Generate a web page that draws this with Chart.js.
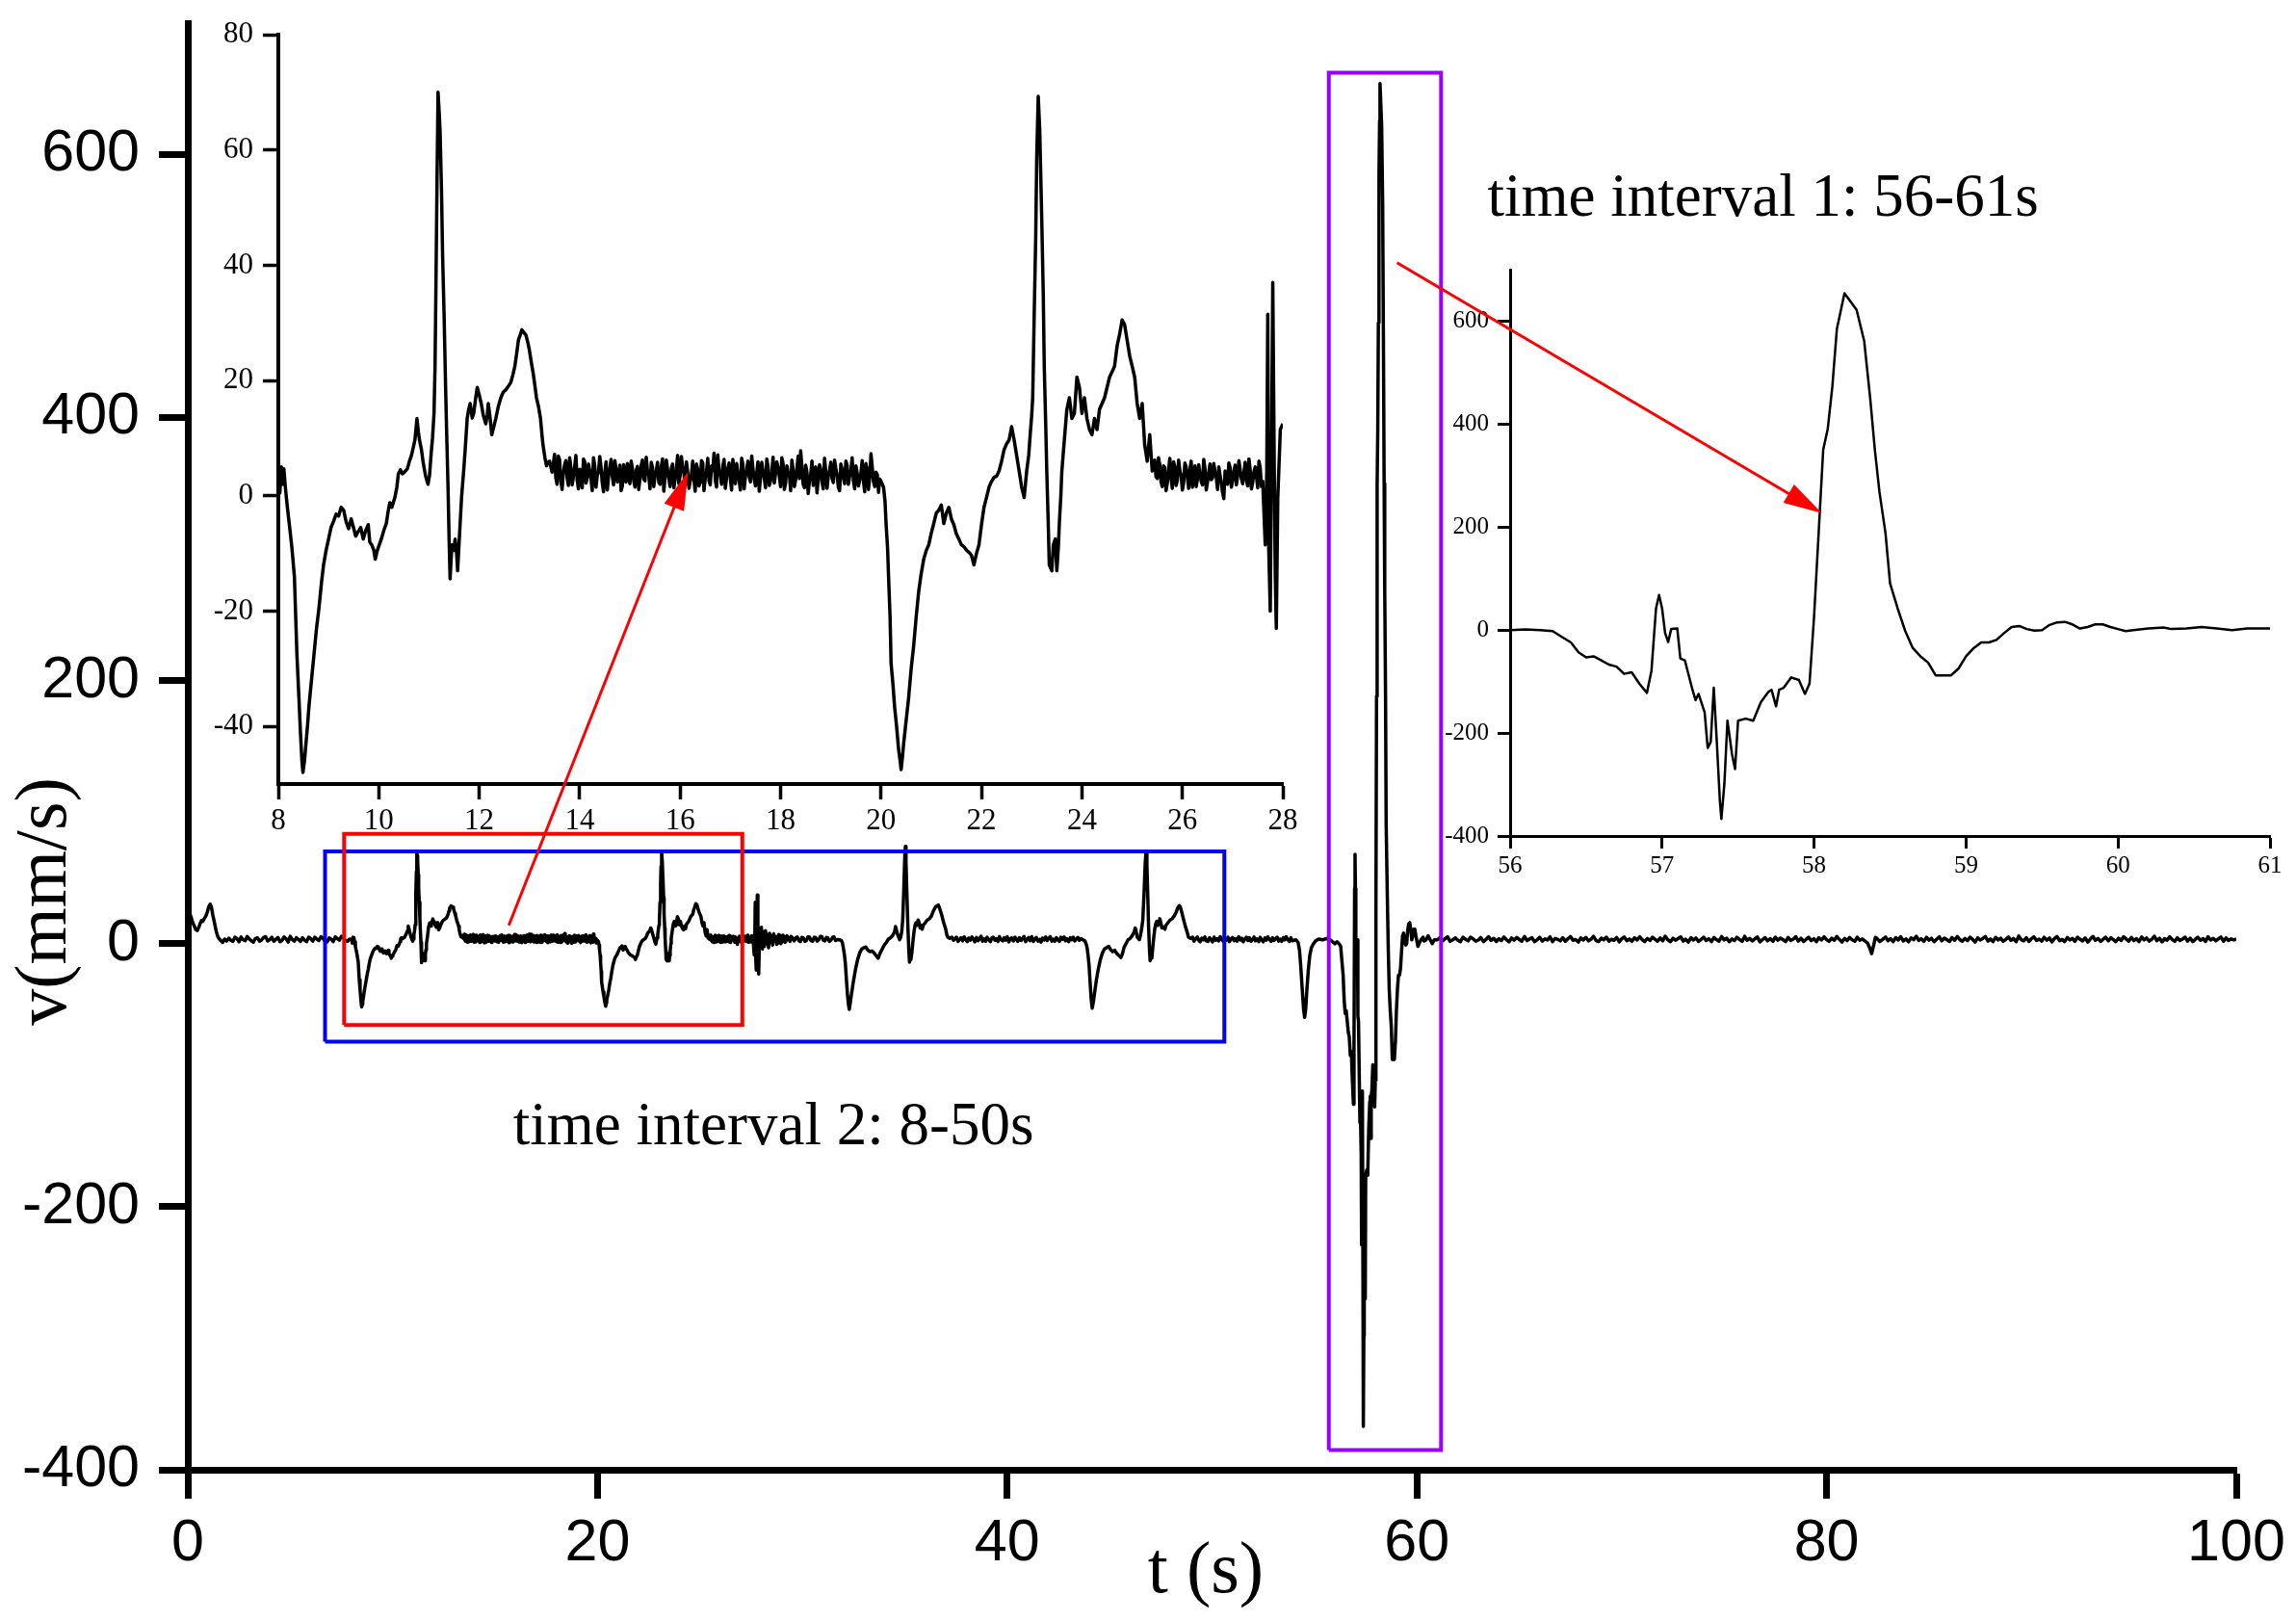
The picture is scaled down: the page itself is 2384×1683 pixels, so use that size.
<!DOCTYPE html>
<html><head><meta charset="utf-8">
<script src="https://cdn.jsdelivr.net/npm/chart.js@4.4.1/dist/chart.umd.min.js"></script>
<style>
html,body{margin:0;padding:0;background:#fff;}
#wrap{position:relative;width:2384px;height:1683px;overflow:hidden;background:#fff;}
canvas{position:absolute;}
</style></head><body>
<div id="wrap">
<canvas id="inset1" width="1180" height="870" style="left:200px;top:10px;width:1180px;height:870px"></canvas>
<canvas id="inset2" width="904" height="700" style="left:1480px;top:250px;width:904px;height:700px"></canvas>
<canvas id="main" width="2384" height="1683" style="left:0;top:0;width:2384px;height:1683px"></canvas>
</div>
<script>
// ---------- signal v(t): [t (s), v (mm/s)] ----------
const segStart = [[0,20],[0.08,22],[0.15,21],[0.22,17],[0.3,14],[0.38,11],[0.46,10],[0.55,13],[0.62,16],[0.67,17.6],[0.73,17],[0.8,19],[0.88,21],[0.95,24],[1.02,28],[1.09,30],[1.15,28],[1.22,22],[1.3,16],[1.38,10],[1.45,6],[1.52,4],[1.6,2.5],[1.7,1],[1.8,3.5],[1.9,2],
[2.0,4.2],[2.1,2.6],[2.2,1.8],[2.3,4.9],[2.4,3.9],[2.5,1.5],[2.6,5.1],[2.7,3.0],[2.8,2.3],[2.9,5.5],[3.0,3.6],[3.1,2.2],[3.2,1.2],[3.3,4.0],[3.4,4.5],[3.5,1.9],[3.6,2.8],[3.7,4.7],[3.8,5.4],[3.9,2.1],[4.0,3.1],[4.1,5.0],[4.2,1.9],[4.3,3.4],[4.4,4.8],[4.5,1.6],[4.6,2.5],[4.7,5.2],[4.8,3.7],[4.9,1.3],[5.0,5.6],[5.1,3.2],[5.2,2.0],[5.3,4.6],[5.4,3.3],[5.5,1.7],[5.6,4.6],[5.7,2.7],[5.8,1.6],[5.9,5.0],[6.0,3.8],[6.1,2.0],[6.2,5.0],[6.3,3.5],[6.4,2.4],[6.5,5.3],[6.6,4.1],[6.7,1.8],[6.8,1.4],[6.9,4.4],[7.0,3.5],[7.1,1.6],[7.2,5.2],[7.3,3.9],[7.4,2.7],[7.5,5.6],[7.6,4.4],[7.7,2.2],[7.8,1.9],[7.9,3.6]];

const beat1 = [[8.00,3],[8.03,0.5],[8.06,5],[8.09,2],[8.11,4.7],[8.14,1.5],[8.18,-2],[8.22,-5],[8.27,-9],[8.32,-14],[8.37,-27.5],[8.41,-35],[8.44,-41],[8.47,-46],[8.49,-48],[8.52,-46],[8.54,-44],[8.58,-40],[8.61,-36.5],[8.66,-32],[8.71,-27.5],[8.76,-23],[8.81,-19.4],[8.86,-15],[8.90,-12],[8.95,-9.5],[9.00,-7.5],[9.05,-5.5],[9.10,-4.4],[9.15,-3.2],[9.20,-3.5],[9.25,-2],[9.30,-2.5],[9.35,-4.5],[9.40,-5.7],[9.45,-4],[9.49,-5.3],[9.54,-7],[9.59,-6.2],[9.64,-5.5],[9.69,-7.5],[9.74,-6],[9.79,-5],[9.82,-8],[9.86,-8.5],[9.90,-9.4],[9.93,-11],[9.97,-9.5],[10.01,-8.5],[10.05,-7.5],[10.10,-6],[10.15,-4.8],[10.19,-2.5],[10.22,-1.2],[10.26,-2],[10.32,-0.3],[10.36,1.5],[10.39,3.8],[10.43,4.5],[10.47,3.8],[10.52,4.2],[10.57,4.7],[10.61,6],[10.65,7],[10.69,8.5],[10.72,9.7],[10.76,13.4],[10.79,11],[10.81,9.7],[10.85,8],[10.88,6],[10.93,3.5],[10.98,2],[11.01,3.5],[11.04,7],[11.07,10],[11.10,14.3],[11.12,22.4],[11.14,38],[11.16,55],[11.18,70],[11.20,67],[11.22,63.4],[11.25,52.5],[11.27,42],[11.30,31.5],[11.33,19],[11.35,11.5],[11.38,1],[11.40,-7.5],[11.42,-14.4],[11.44,-11],[11.46,-8.5],[11.49,-9.5],[11.52,-7.5],[11.55,-10],[11.57,-13],[11.60,-8],[11.62,-4.8],[11.65,0],[11.69,4.3],[11.72,8],[11.76,13.4],[11.79,15],[11.82,16],[11.86,13.5],[11.89,14.3],[11.93,17],[11.96,18.8],[12.00,17.5],[12.04,16],[12.08,14],[12.13,12.5],[12.16,14],[12.18,16],[12.21,14],[12.25,10.6],[12.29,12],[12.33,13.4],[12.38,15.5],[12.43,17],[12.48,18],[12.53,18.4],[12.58,19],[12.63,19.7],[12.67,21],[12.71,22.5],[12.75,25],[12.78,27],[12.82,28],[12.85,28.8],[12.89,28.3],[12.93,27.9],[12.97,26.5],[13.00,25.2],[13.04,23],[13.07,21.5],[13.11,19],[13.14,17],[13.18,15.5],[13.22,13.4],[13.25,10.5],[13.27,8.8],[13.31,6.5],[13.34,5.2],[13.37,5.8],[13.40,6]];

const rest1 = [[13.45,4.1],[13.50,7.2],[13.55,2.0],[13.60,6.3],[13.65,1.1],[13.70,5.4],[13.75,3.2],[13.80,6.6],[13.85,1.9],[13.90,5.0],[13.95,2.7],[14.00,4.6],[14.05,1.4],[14.10,5.9],[14.15,3.1],[14.20,4.4],[14.25,0.9],[14.30,5.2],[14.35,3.6],[14.40,6.8],[14.45,2.2],[14.50,4.0],[14.55,1.0],[14.60,4.8],[14.65,3.3],[14.70,6.1],[14.75,2.4],[14.80,5.3],[14.85,1.7],[14.90,3.9],[14.95,5.6],[15.00,2.1],[15.05,4.7],[15.10,1.5],[15.15,5.1],[15.20,3.0],[15.25,6.2],[15.30,2.6],[15.35,4.3],[15.40,1.2],[15.45,4.9],[15.50,3.4],[15.55,5.8],[15.60,2.0],[15.65,6.4],[15.70,3.2],[15.75,4.5],[15.80,1.6],[15.85,5.5],[15.90,2.8],[15.95,7.0],[16.00,3.5],[16.05,5.0],[16.10,1.8],[16.15,4.2],[16.20,2.5],[16.25,6.0],[16.30,0.8],[16.35,4.6],[16.40,2.3],[16.45,5.7],[16.50,3.1],[16.55,6.5],[16.60,1.9],[16.65,4.4],[16.70,2.7],[16.75,7.1],[16.80,3.6],[16.85,5.2],[16.90,1.3],[16.95,4.8],[17.00,2.9],[17.05,6.3],[17.10,2.1],[17.15,4.0],[17.20,1.0],[17.25,5.4],[17.30,3.3],[17.35,6.0],[17.40,2.4],[17.45,4.7],[17.50,1.7],[17.55,5.9],[17.60,3.0],[17.65,4.3],[17.70,1.4],[17.75,5.1],[17.80,2.6],[17.85,6.7],[17.90,3.8],[17.95,4.9],[18.00,1.6],[18.05,5.6],[18.10,2.2],[18.15,4.1],[18.20,0.9],[18.25,4.5],[18.30,2.8],[18.35,6.9],[18.40,7.8],[18.45,2.0],[18.50,5.3],[18.55,0.4],[18.60,3.7],[18.65,1.8],[18.70,5.0],[18.75,2.9],[18.80,4.6],[18.85,1.2],[18.90,4.2],[18.95,3.4],[19.00,5.8],[19.05,2.3],[19.10,4.8],[19.15,1.5],[19.20,5.5],[19.25,3.1],[19.30,6.0],[19.35,2.0],[19.40,4.4],[19.45,2.6],[19.50,5.2],[19.55,1.7],[19.60,3.9],[19.65,2.5],[19.70,5.6],[19.75,1.1],[19.80,7.3],[19.85,2.4],[19.90,4.1],[19.95,0.6]];

const rest1b = [[13.475,5.6],[13.525,3.1],[13.575,6.9],[13.625,2.5],[13.675,4.0],[13.725,6.1],[13.775,1.8],[13.825,4.9],[13.875,3.3],[13.925,7.0],[13.975,1.2],[14.025,3.8],[14.075,6.4],[14.125,2.2],[14.175,5.5],[14.225,3.0],[14.275,6.6],[14.325,1.5],[14.375,4.1],[14.425,5.0],[14.475,0.7],[14.525,5.9],[14.575,3.4],[14.625,6.3],[14.675,1.9],[14.725,4.6],[14.775,3.8],[14.825,0.9],[14.875,5.4],[14.925,2.4],[14.975,3.5],[15.025,6.0],[15.075,2.7],[15.125,4.4],[15.175,1.1],[15.225,5.3],[15.275,2.9],[15.325,6.7],[15.375,3.6],[15.425,5.8],[15.475,1.6],[15.525,4.3],[15.575,2.3],[15.625,5.1],[15.675,0.8],[15.725,6.2],[15.775,3.0],[15.825,4.8],[15.875,1.4],[15.925,4.6],[15.975,2.1],[16.025,6.8],[16.075,3.9],[16.125,5.9],[16.175,1.3],[16.225,3.7],[16.275,2.8],[16.325,5.5],[16.375,1.7],[16.425,6.1],[16.475,0.9],[16.525,4.1],[16.575,2.6],[16.625,5.2],[16.675,7.4],[16.725,1.5],[16.775,4.4],[16.825,2.0],[16.875,6.3],[16.925,3.2],[16.975,5.7],[17.025,1.0],[17.075,3.6],[17.125,5.6],[17.175,2.6],[17.225,6.5],[17.275,1.2],[17.325,4.5],[17.375,3.3],[17.425,6.9],[17.475,2.9],[17.525,4.0],[17.575,0.8],[17.625,5.8],[17.675,3.1],[17.725,6.4],[17.775,1.8],[17.825,4.2],[17.875,2.2],[17.925,5.9],[17.975,3.4],[18.025,6.6],[18.075,1.1],[18.125,5.2],[18.175,3.7],[18.225,6.2],[18.275,1.6],[18.325,4.7],[18.375,3.0],[18.425,5.0],[18.475,1.4],[18.525,4.1],[18.575,2.6],[18.625,6.0],[18.675,3.9],[18.725,0.5],[18.775,5.4],[18.825,2.3],[18.875,6.5],[18.925,1.3],[18.975,4.4],[19.025,3.0],[19.075,6.2],[19.125,3.6],[19.175,0.9],[19.225,4.7],[19.275,2.1],[19.325,5.3],[19.375,3.4],[19.425,6.6],[19.475,1.2],[19.525,4.0],[19.575,2.7],[19.625,6.1],[19.675,0.7],[19.725,4.5],[19.775,3.3],[19.825,5.0],[19.875,1.6],[19.925,3.7],[19.975,2.9]];

const beat2 = [[20.00,2.5],[20.05,1.5],[20.08,-1],[20.10,-4.8],[20.13,-9],[20.15,-14],[20.18,-21],[20.20,-29],[20.24,-33],[20.27,-36.6],[20.31,-40],[20.35,-44],[20.38,-46],[20.40,-47.5],[20.43,-45],[20.45,-43],[20.50,-39],[20.55,-35],[20.60,-30],[20.65,-26],[20.70,-21],[20.75,-16.6],[20.80,-13.5],[20.85,-11],[20.90,-9.5],[20.95,-8.5],[21.00,-6.5],[21.05,-4.8],[21.10,-3],[21.15,-2.5],[21.20,-1.6],[21.25,-4.8],[21.30,-3],[21.35,-2],[21.40,-4],[21.45,-5],[21.50,-6.6],[21.55,-7.5],[21.60,-8.5],[21.65,-8.8],[21.70,-9.4],[21.75,-9.8],[21.80,-10.3],[21.85,-12],[21.90,-10],[21.95,-8.5],[22.00,-5],[22.05,-2],[22.10,-0.3],[22.15,1.5],[22.20,2.5],[22.25,3.2],[22.30,3.4],[22.35,4.3],[22.40,6],[22.45,8],[22.50,9],[22.55,9.7],[22.60,12],[22.65,9.7],[22.70,7],[22.75,4.3],[22.80,1.5],[22.85,-0.3],[22.90,4.3],[22.94,7],[22.97,10.6],[23.00,14],[23.02,17],[23.05,31.5],[23.08,45],[23.10,58.8],[23.13,69.3],[23.16,63.4],[23.20,48],[23.23,35],[23.25,22.5],[23.28,12],[23.30,4.3],[23.33,-5],[23.35,-12],[23.40,-13],[23.43,-8.5],[23.47,-7.5],[23.50,-13],[23.53,-9],[23.55,-4.8],[23.58,0],[23.60,4.3],[23.65,9.7],[23.70,15],[23.75,17],[23.80,13.4],[23.85,14.3],[23.90,20.6],[23.95,18.8],[24.00,14.3],[24.05,17],[24.10,13.4],[24.15,11.5],[24.20,10.6],[24.25,13.4],[24.30,11.5],[24.35,15],[24.40,16],[24.45,17],[24.50,18.8],[24.55,20.6],[24.60,21.5],[24.65,22.5],[24.70,26],[24.75,28],[24.80,30.5],[24.85,29.7],[24.90,27],[24.95,24.3],[25.00,22.5],[25.05,20.6],[25.10,16],[25.15,13.4],[25.20,16],[25.25,8.8],[25.30,6],[25.35,10.6],[25.40,4.3]];

const rest2 = [[25.45,6.2],[25.50,3.0],[25.55,5.4],[25.60,1.6],[25.65,4.9],[25.70,2.2],[25.75,6.5],[25.80,1.3],[25.85,5.0],[25.90,2.7],[25.95,4.4],[26.00,1.0],[26.05,5.7],[26.10,3.2],[26.15,4.6],[26.20,1.5],[26.25,5.2],[26.30,2.9],[26.35,3.8],[26.40,1.9],[26.45,4.7],[26.50,2.4],[26.55,5.5],[26.60,3.1],[26.65,4.2],[26.70,1.1],[26.75,3.6],[26.80,0.6],[26.85,4.3],[26.90,2.0],[26.95,4.9],[27.00,2.6],[27.05,5.3],[27.10,3.4],[27.15,4.6],[27.20,2.1],[27.25,5.8],[27.30,1.7],[27.35,4.5],[27.40,2.3],[27.45,5.0],[27.50,1.4],[27.55,4.8],[27.60,2.5]];

const rest2b = [[25.475,3.3],[25.525,6.6],[25.575,2.4],[25.625,5.2],[25.675,0.9],[25.725,4.4],[25.775,3.0],[25.825,5.9],[25.875,1.8],[25.925,6.2],[25.975,3.5],[26.025,2.2],[26.075,5.0],[26.125,1.3],[26.175,6.0],[26.225,3.7],[26.275,1.6],[26.325,5.4],[26.375,2.5],[26.425,6.3],[26.475,1.0],[26.525,4.1],[26.575,2.8],[26.625,5.6],[26.675,3.2],[26.725,5.0],[26.775,2.3],[26.825,-0.5],[26.875,3.1],[26.925,5.7],[26.975,1.5],[27.025,4.3],[27.075,1.9],[27.125,6.1],[27.175,3.0],[27.225,4.0],[27.275,2.7],[27.325,6.4],[27.375,1.2],[27.425,4.2],[27.475,3.3],[27.525,6.0],[27.575,1.6]];

const burst = [[27.62,-2],[27.65,-8.5],[27.68,4],[27.70,31.5],[27.72,-9.4],[27.75,-20],[27.78,13.4],[27.80,37],[27.83,4.3],[27.85,-14],[27.87,-23],[27.90,-0.3],[27.95,11.5],[28.00,12.5],
[28.05,-4],[28.10,9],[28.15,-2],[28.20,10],[28.25,0],[28.30,7],[28.35,-3],[28.40,8],[28.45,1],[28.50,6],[28.55,-1],[28.60,7.5],[28.65,2],[28.70,5.5],[28.75,-0.5],[28.80,0.5],[28.85,7],[28.90,6.5],[28.95,0],[29.00,1.5],[29.05,6.5],[29.10,5.5],[29.15,1],[29.20,2],[29.25,6],[29.30,5],[29.40,1.8],[29.45,5.5],[29.50,4.8],[29.60,2.2],[29.68,4.5],[29.75,5.2],[29.82,2.5],[29.90,1.6],[29.97,4.8],[30.05,4.4],[30.12,1.8],[30.20,2.5],[30.28,5.3],[30.35,5.0],[30.42,2.4],[30.50,1.9],[30.58,4.9],[30.65,4.6],[30.72,2.0],[30.80,3.0],[30.88,5.6],[30.95,5.4],[31.02,2.7],[31.10,2.1],[31.18,4.8],[31.25,4.3],[31.32,1.7],[31.40,2.8],[31.48,5.0],[31.55,5.1],[31.62,2.4],[31.70,3.2]];

const beat3 = [[31.8,3],[31.9,2.5],[31.95,1],[32.0,-3],[32.05,-8],[32.1,-15],[32.15,-27],[32.2,-38],[32.25,-46],[32.29,-50],[32.33,-46],[32.4,-38],[32.5,-28],[32.6,-19],[32.7,-12],[32.8,-7],[32.9,-4],[33.0,-3],[33.1,-2.5],[33.2,-5],[33.3,-6],[33.4,-5.5],[33.5,-7],[33.6,-9],[33.7,-11],[33.8,-7],[33.9,-4],[34.0,-1],[34.1,1],[34.2,3.5],[34.3,4.5],[34.4,6],[34.5,9],[34.55,13],[34.6,10],[34.65,7],[34.75,3],[34.8,5],[34.85,9],[34.9,18],[34.95,40],[35.0,66],[35.03,74],[35.06,62],[35.1,40],[35.15,14],[35.2,-6],[35.23,-14],[35.27,-9],[35.3,-12],[35.35,-6],[35.4,2],[35.45,9],[35.5,14],[35.55,16],[35.6,14],[35.65,18],[35.7,16],[35.75,12],[35.8,14],[35.85,11],[35.9,14],[36.0,16],[36.1,18],[36.2,19],[36.3,21],[36.4,25],[36.5,28],[36.6,29],[36.64,29.5],[36.7,27],[36.8,22],[36.9,16],[37.0,11],[37.05,7],[37.1,5],[37.2,4]];

const rest3 = [[37.3,5],[37.38,2.6],[37.45,3.9],[37.52,5.0],[37.6,1.8],[37.68,3.5],[37.75,4.6],[37.82,2.2],[37.9,5.2],[37.98,3.0],[38.05,1.6],[38.12,4.3],[38.2,2.7],[38.28,5.1],[38.35,3.4],[38.42,1.5],[38.5,4.8],[38.58,2.3],[38.65,3.9],[38.72,5.7],[38.8,2.0],[38.88,3.6],[38.95,1.9],[39.02,4.9],[39.1,3.1],[39.18,1.6],[39.25,4.4],[39.32,5.0],[39.4,2.6],[39.48,3.8],[39.55,1.7],[39.62,5.4],[39.7,3.0],[39.78,2.2],[39.85,4.5],[39.92,2.8],[40.0,5.3],[40.08,1.4],[40.15,3.7],[40.22,4.4],[40.3,2.1],[40.38,5.0],[40.45,3.2],[40.52,1.8],[40.6,4.6],[40.68,2.5],[40.75,3.9],[40.82,5.5],[40.9,1.6],[40.98,3.4],[41.05,4.8],[41.12,2.3],[41.2,5.4],[41.28,1.7],[41.35,3.6],[41.42,4.7],[41.5,2.0],[41.58,3.3],[41.65,1.3],[41.72,4.3],[41.8,2.9],[41.88,5.2],[41.95,2.4],[42.02,4.0],[42.1,5.3],[42.18,2.0],[42.25,3.5],[42.32,1.9],[42.4,4.6],[42.48,2.7],[42.55,1.8],[42.62,4.9],[42.7,3.3],[42.78,5.1],[42.85,2.2],[42.92,3.8],[43.0,1.5],[43.08,4.5],[43.15,3.0],[43.22,5.0],[43.3,2.1],[43.38,3.6],[43.45,4.8],[43.52,2.6],[43.6,3.9]];

const beat4 = [[43.7,3],[43.8,2],[43.85,0],[43.9,-3],[43.95,-9],[44.0,-17],[44.05,-30],[44.1,-42],[44.15,-49],[44.2,-45],[44.27,-37],[44.35,-28],[44.45,-19],[44.55,-12],[44.65,-7],[44.75,-4],[44.85,-3],[44.95,-2],[45.05,-4.5],[45.15,-6],[45.25,-5],[45.35,-7.5],[45.45,-9],[45.55,-10.5],[45.62,-8],[45.7,-3],[45.8,0],[45.9,3],[46.0,4],[46.1,6],[46.2,9],[46.25,12],[46.3,9],[46.35,5],[46.45,3],[46.5,6],[46.55,10],[46.62,18],[46.68,38],[46.74,62],[46.78,70],[46.82,60],[46.86,38],[46.9,14],[46.95,-6],[46.98,-13],[47.02,-8],[47.06,-11],[47.1,-4],[47.15,4],[47.2,11],[47.25,15],[47.3,17],[47.35,14],[47.4,15],[47.45,19],[47.5,16],[47.55,12],[47.6,13],[47.7,11],[47.75,14],[47.85,16],[47.95,18],[48.05,19],[48.15,21],[48.25,24],[48.32,27],[48.4,29],[48.45,28],[48.52,24],[48.6,19],[48.7,13],[48.8,8],[48.85,5],[48.95,4]];

const rest4 = [[49.05,5.0],[49.12,2.0],[49.2,3.8],[49.28,5.1],[49.35,2.6],[49.42,1.5],[49.5,4.2],[49.58,3.0],[49.65,5.2],[49.72,2.2],[49.8,1.7],[49.88,4.6],[49.95,3.3],[50.02,1.4],[50.1,5.0],[50.18,2.7],[50.25,3.9],[50.32,2.1],[50.4,5.4],[50.48,3.2],[50.55,1.8],[50.62,4.4],[50.7,2.6],[50.78,4.9],[50.85,1.6],[50.92,3.5],[51.0,4.7],[51.08,2.3],[51.15,3.8],[51.22,1.9],[51.3,5.3],[51.38,2.8],[51.45,4.1],[51.52,1.5],[51.6,3.6],[51.68,5.0],[51.75,2.4],[51.82,4.5],[51.9,1.9],[51.98,3.2],[52.05,5.1],[52.12,2.2],[52.2,3.7],[52.28,1.6],[52.35,4.8],[52.42,3.0],[52.5,1.4],[52.58,4.4],[52.65,2.7],[52.72,5.2],[52.8,3.4],[52.88,1.8],[52.95,4.6],[53.02,2.4],[53.1,3.9],[53.18,5.0],[53.25,2.0],[53.32,3.5],[53.4,1.8],[53.48,4.6],[53.55,2.9],[53.62,5.3],[53.7,3.1],[53.78,1.7],[53.85,4.5],[53.92,2.3],[54.0,2.6],
[54.1,3],[54.2,1],[54.27,-5],[54.33,-17],[54.4,-34],[54.47,-50],[54.52,-56],[54.57,-50],[54.63,-35],[54.7,-20],[54.77,-9],[54.85,-3],[54.95,0],[55.05,2],[55.2,3.5],[55.4,3],[55.6,4],[55.8,2.5]];

const event1 = [[56.0,0],[56.1,1.5],[56.2,0],[56.28,-2],[56.35,-15],[56.4,-24],[56.45,-43],[56.5,-53],[56.55,-51],[56.6,-59],[56.65,-67],[56.7,-71],[56.75,-85],[56.8,-82],[56.85,-104],[56.9,-122],[56.93,-79],[56.96,42],[56.98,68],[57.0,42],[57.02,-6],[57.04,-23],[57.06,2],[57.1,3],[57.12,-55],[57.15,-59],[57.2,-116],[57.22,-136],[57.24,-124],[57.28,-160],[57.3,-229],[57.32,-217],[57.34,-112],[57.36,-217],[57.38,-331],[57.39,-367],[57.41,-298],[57.43,-176],[57.46,-241],[57.48,-270],[57.5,-176],[57.55,-172],[57.6,-176],[57.65,-140],[57.7,-120],[57.72,-116],[57.75,-148],[57.77,-116],[57.8,-112],[57.85,-92],[57.9,-97],[57.94,-124],[57.97,-104],[58.0,26],[58.03,188],[58.06,350],[58.09,391],[58.12,472],[58.15,585],[58.18,626],[58.2,654],[58.25,634],[58.28,622],[58.33,561],[58.37,448],[58.4,350],[58.43,269],[58.47,188],[58.5,91],[58.55,42],[58.6,-2],[58.65,-35],[58.7,-51],[58.75,-63],[58.8,-88],[58.85,-88],[58.9,-88],[58.95,-75],[59.0,-51],[59.05,-35],[59.1,-24],[59.15,-24],[59.2,-19],[59.25,-6],[59.3,6],[59.35,8],[59.4,2],[59.45,-1],[59.5,0],[59.55,10],[59.6,15],[59.65,16],[59.7,11],[59.75,3],[59.8,6],[59.85,11],[59.9,11],[59.95,6],[60.0,2],[60.05,-2],[60.1,0],[60.2,3],[60.3,5],[60.35,2],[60.45,3],[60.55,6],[60.65,3],[60.75,0],[60.85,3],[61.0,3]];

const segEnd = [[61.12,4.6],[61.25,2.1],[61.38,3.9],[61.5,5.2],[61.62,1.8],[61.75,3.0],[61.88,4.4],[62.0,2.6],[62.12,1.5],[62.25,4.9],[62.38,3.3],[62.5,2.2],[62.62,5.0],[62.75,3.6],[62.88,1.9],[63.0,2.8],[63.12,4.7],[63.25,1.6],[63.38,3.4],[63.5,5.3],[63.62,2.5],[63.75,4.1],[63.88,1.7],[64.0,3.8],[64.12,2.3],[64.25,5.1],[64.38,3.0],[64.5,1.4],[64.62,4.3],[64.75,2.7],[64.88,4.8],[65.0,3.2],[65.12,1.9],[65.25,5.5],[65.38,2.4],[65.5,3.6],[65.62,4.5],[65.75,1.6],[65.88,3.1],[66.0,4.9],[66.12,2.0],[66.25,3.7],[66.38,2.9],[66.5,5.2],[66.62,1.5],[66.75,4.0],[66.88,3.3],[67.0,2.2],[67.12,4.6],[67.25,1.8],[67.38,3.9],[67.5,5.4],[67.62,2.6],[67.75,3.2],[67.88,1.3],[68.0,4.4],[68.12,2.9],[68.25,4.8],[68.38,2.1],[68.5,3.5],[68.62,5.6],[68.75,2.4],[68.88,1.7],[69.0,4.2],[69.12,3.0],[69.25,5.0],[69.38,1.9],[69.5,3.4],[69.62,2.6],[69.75,4.7],[69.88,1.4],[70.0,3.8],[70.12,5.1],[70.25,2.3],[70.38,3.6],[70.5,1.8],[70.62,4.5],[70.75,2.8],[70.88,5.3],[71.0,3.1],[71.12,1.6],[71.25,4.0],[71.38,2.5],[71.5,4.9],[71.62,3.4],[71.75,1.9],[71.88,4.3],[72.0,2.2],[72.12,5.7],[72.25,3.0],[72.38,1.5],[72.5,4.1],[72.62,2.7],[72.75,3.9],[72.88,5.2],[73.0,2.0],[73.12,3.5],[73.25,1.2],[73.38,4.6],[73.5,2.8],[73.62,4.4],[73.75,1.7],[73.88,3.3],[74.0,5.0],[74.12,2.4],[74.25,3.8],[74.38,1.6],[74.5,4.7],[74.62,3.1],[74.75,2.0],[74.88,5.4],[75.0,2.9],[75.12,4.2],[75.25,1.5],[75.38,3.6],[75.5,2.3],[75.62,4.9],[75.75,3.2],[75.88,1.8],[76.0,5.6],[76.12,2.6],[76.25,4.0],[76.38,2.1],[76.5,3.7],[76.62,5.1],[76.75,1.4],[76.88,3.3],[77.0,4.6],[77.12,2.2],[77.25,3.9],[77.38,1.9],[77.5,5.0],[77.62,2.7],[77.75,4.3],[77.88,3.0],[78.0,1.6],[78.12,4.8],[78.25,2.5],[78.38,3.5],[78.5,5.3],[78.62,2.0],[78.75,4.1],[78.88,1.7],[79.0,3.4],[79.12,4.9],[79.25,2.3],[79.38,3.8],[79.5,1.5],[79.62,4.5],[79.75,2.8],[79.88,5.2],[80.0,3.1],[80.12,1.8],[80.25,4.2],[80.38,2.6],[80.5,5.5],[80.62,3.3],[80.75,1.3],[80.88,4.0],[81.0,2.4],[81.12,4.7],[81.25,3.0],[81.38,1.9],[81.5,5.0],[81.62,2.7],[81.75,3.6],[81.88,1.9],[82.0,0.5],[82.1,-3],[82.2,-7.5],[82.3,-1],[82.38,4.8],[82.45,4.2],[82.6,1.6],[82.75,3.4],[82.88,5.1],[83.0,2.3],[83.12,3.9],[83.25,1.6],[83.38,4.6],[83.5,2.9],[83.62,5.3],[83.75,2.1],[83.88,3.7],[84.0,1.4],[84.12,4.4],[84.25,3.1],[84.38,5.6],[84.5,2.5],[84.62,3.8],[84.75,1.8],[84.88,4.9],[85.0,2.7],[85.12,4.1],[85.25,1.5],[85.38,3.5],[85.5,5.2],[85.62,2.2],[85.75,4.3],[85.88,3.0],[86.0,1.7],[86.12,4.7],[86.25,2.6],[86.38,5.4],[86.5,3.2],[86.62,1.9],[86.75,4.0],[86.88,2.4],[87.0,5.0],[87.12,3.4],[87.25,1.3],[87.38,4.5],[87.5,2.8],[87.62,3.9],[87.75,5.5],[87.88,2.0],[88.0,3.6],[88.12,1.6],[88.25,4.8],[88.38,2.9],[88.5,4.2],[88.62,1.8],[88.75,3.3],[88.88,5.1],[89.0,2.5],[89.12,4.0],[89.25,1.5],[89.38,5.8],[89.5,3.1],[89.62,2.2],[89.75,4.6],[89.88,1.7],[90.0,3.8],[90.12,5.2],[90.25,2.4],[90.38,3.5],[90.5,1.9],[90.62,4.9],[90.75,2.7],[90.88,4.3],[91.0,1.4],[91.12,3.9],[91.25,5.4],[91.38,2.3],[91.5,3.2],[91.62,1.6],[91.75,4.7],[91.88,2.9],[92.0,4.1],[92.12,1.8],[92.25,5.0],[92.38,3.3],[92.5,2.1],[92.62,4.4],[92.75,1.3],[92.88,3.7],[93.0,5.5],[93.12,2.6],[93.25,4.0],[93.38,1.7],[93.5,3.4],[93.62,5.0],[93.75,2.2],[93.88,4.6],[94.0,3.0],[94.12,1.5],[94.25,4.2],[94.38,2.5],[94.5,5.3],[94.62,3.6],[94.75,1.9],[94.88,4.8],[95.0,2.4],[95.12,3.9],[95.25,1.6],[95.38,5.1],[95.5,2.9],[95.62,4.3],[95.75,2.0],[95.88,3.5],[96.0,5.6],[96.12,2.3],[96.25,4.1],[96.38,1.4],[96.5,3.8],[96.62,2.7],[96.75,5.2],[96.88,3.1],[97.0,1.8],[97.12,4.5],[97.25,2.4],[97.38,3.6],[97.5,5.0],[97.62,2.0],[97.75,4.2],[97.88,1.6],[98.0,3.4],[98.12,4.9],[98.25,2.6],[98.38,3.9],[98.5,1.7],[98.62,5.3],[98.75,2.8],[98.88,4.0],[99.0,2.2],[99.12,3.6],[99.25,5.1],[99.38,1.9],[99.5,4.4],[99.62,2.5],[99.75,3.7],[99.88,2.9],[100.0,3.5]];

// ---------- annotations (main-chart data coordinates) ----------
const redBox    = [7.63, 27.07, -61.8, 83.6];   // [t0, t1, v0, v1]
const blueBox   = [6.7, 50.6, -74.5, 70.2];
const purpleBox = [55.7, 61.18, -385, 662.3];
const arrow1 = [15.67, 14.0, 24.43, 359.0];      // [t0, v0, t1, v1]
const arrow2 = [59.03, 517.8, 79.77, 327.4];
const label1 = ['time interval 1: 56-61s', 63.45, 553.7];
const label2 = ['time interval 2: 8-50s', 15.88, -152.5];

// ---------- axes: [min, max, tick step, labelled every] ----------
const mainX = [0, 100, 10, 20];
const mainY = [-400, 700, 100, 200];
const zoomAX = [8, 28, 1, 2];
const zoomAY = [-50, 80, 10, 20];
const zoomBX = [56, 61, 0.5, 1];
const zoomBY = [-400, 700, 100, 200];

const SANS = "'Liberation Sans', Arial, sans-serif";
const SERIF = "'Liberation Serif', 'Times New Roman', serif";

const signal = [].concat(segStart, beat1, rest1, rest1b, beat2, rest2, rest2b, burst, beat3, rest3, beat4, rest4, event1, segEnd)
  .map(p => ({x: p[0], y: p[1]})).sort((a, b) => a.x - b.x);

function boxPath(b) {
  return [{x:b[0],y:b[2]},{x:b[1],y:b[2]},{x:b[1],y:b[3]},{x:b[0],y:b[3]},{x:b[0],y:b[2]}];
}
function isMult(v, m) { const r = v / m; return Math.abs(r - Math.round(r)) < 1e-6; }
function fmt(v) { return String(Math.round(v * 1000) / 1000); }

const minorTicks = {
  id: 'minorTicks',
  afterDraw(chart, args, opts) {
    const ctx = chart.ctx;
    ['x', 'y'].forEach(id => {
      const sc = chart.scales[id], o = opts[id];
      if (!sc || !o) return;
      ctx.save();
      ctx.strokeStyle = '#000'; ctx.lineWidth = o.width; ctx.lineCap = 'butt';
      sc.ticks.forEach(t => {
        if (isMult(t.value, o.major)) return;
        const p = sc.getPixelForValue(t.value);
        ctx.beginPath();
        if (id === 'x') { ctx.moveTo(p, sc.top); ctx.lineTo(p, sc.top + o.length); }
        else { ctx.moveTo(sc.right, p); ctx.lineTo(sc.right - o.length, p); }
        ctx.stroke();
      });
      ctx.restore();
    });
  }
};

function axis(range, opt) {
  const [mn, mx, step, major] = range;
  return {
    type: 'linear', min: mn, max: mx, position: opt.position,
    afterFit: s => {
      if (opt.position === 'bottom') s.height = opt.size0; else s.width = opt.size0;
      s.paddingTop = 0; s.paddingBottom = 0; s.paddingLeft = 0; s.paddingRight = 0;
    },
    ticks: {
      stepSize: step, autoSkip: false, maxRotation: 0, minRotation: 0,
      padding: opt.pad, color: '#000', font: {family: opt.family, size: opt.size},
      callback: v => isMult(v, major) ? fmt(v) : null
    },
    grid: {
      drawOnChartArea: false, drawTicks: true, tickLength: opt.tick, tickWidth: opt.tw,
      tickColor: c => (c.tick && isMult(c.tick.value, major)) ? '#000' : 'rgba(0,0,0,0)'
    },
    border: {display: true, color: '#000', width: opt.bw}
  };
}

const annot = {
  id: 'annot',
  afterDraw(chart) {
    const {ctx, scales: {x, y}} = chart;
    ctx.save();
    [arrow1, arrow2].forEach(a => {
      const x0 = x.getPixelForValue(a[0]), y0 = y.getPixelForValue(a[1]);
      const x1 = x.getPixelForValue(a[2]), y1 = y.getPixelForValue(a[3]);
      const ang = Math.atan2(y1 - y0, x1 - x0), L = 40, W = 11;
      const bx = x1 - L * Math.cos(ang), by = y1 - L * Math.sin(ang);
      ctx.strokeStyle = '#FF0000'; ctx.fillStyle = '#FF0000'; ctx.lineWidth = 3;
      ctx.beginPath(); ctx.moveTo(x0, y0); ctx.lineTo(bx + 2 * Math.cos(ang), by + 2 * Math.sin(ang)); ctx.stroke();
      ctx.beginPath(); ctx.moveTo(x1, y1);
      ctx.lineTo(bx + W * Math.sin(ang), by - W * Math.cos(ang));
      ctx.lineTo(bx - W * Math.sin(ang), by + W * Math.cos(ang));
      ctx.closePath(); ctx.fill();
    });
    ctx.fillStyle = '#000';
    ctx.font = '63px ' + SERIF; ctx.textAlign = 'left'; ctx.textBaseline = 'alphabetic';
    [label1, label2].forEach(l => ctx.fillText(l[0], x.getPixelForValue(l[1]), y.getPixelForValue(l[2])));
    // axis titles
    ctx.font = '76px ' + SERIF; ctx.textAlign = 'center';
    ctx.fillText('t (s)', 1252, 1653);
    ctx.translate(68, 936); ctx.rotate(-Math.PI / 2);
    ctx.fillText('v(mm/s)', 0, 0);
    ctx.restore();
  }
};

const base = {responsive: false, animation: false, devicePixelRatio: 1, events: [],
  plugins: {legend: {display: false}, tooltip: {enabled: false}}};

function lineDs(data, color, width, order, join) {
  return {data, showLine: true, borderColor: color, borderWidth: width, pointRadius: 0,
    tension: 0, order, borderJoinStyle: join || 'round', fill: false};
}

// inset 1 : 8-28 s
new Chart(document.getElementById('inset1'), {
  type: 'scatter',
  data: {datasets: [lineDs(signal, '#000', 3.5, 1)]},
  options: Object.assign({}, base, {
    layout: {padding: {left: 0, right: 48, top: 26, bottom: 0}},
    plugins: Object.assign({}, base.plugins, {minorTicks: {x: {length: 9, width: 3.5, major: 2}, y: {length: 9, width: 3.5, major: 20}}}),
    scales: {
      x: axis(zoomAX, {position: 'bottom', size0: 66, pad: 4, family: SERIF, size: 31, tick: 16, tw: 3.5, bw: 4}),
      y: axis(zoomAY, {position: 'left', size0: 89, pad: 10, family: SERIF, size: 31, tick: 16, tw: 3.5, bw: 4})
    }
  }),
  plugins: [minorTicks]
});

// inset 2 : 56-61 s
new Chart(document.getElementById('inset2'), {
  type: 'scatter',
  data: {datasets: [lineDs(signal, '#000', 2.5, 1)]},
  options: Object.assign({}, base, {
    layout: {padding: {left: 0, right: 27, top: 30, bottom: 0}},
    plugins: Object.assign({}, base.plugins, {minorTicks: {x: {length: 7, width: 3, major: 1}, y: {length: 7, width: 3, major: 200}}}),
    scales: {
      x: axis(zoomBX, {position: 'bottom', size0: 82, pad: 3, family: SERIF, size: 25, tick: 13, tw: 3, bw: 3}),
      y: axis(zoomBY, {position: 'left', size0: 88, pad: 9, family: SERIF, size: 25, tick: 13, tw: 3, bw: 3})
    }
  }),
  plugins: [minorTicks]
});

// main chart : 0-100 s
new Chart(document.getElementById('main'), {
  type: 'scatter',
  data: {datasets: [
    lineDs(signal, '#000', 3.5, 2),
    Object.assign(lineDs(boxPath(redBox), '#FF0000', 4, 1, 'miter'), {clip: false}),
    Object.assign(lineDs(boxPath(blueBox), '#0000FF', 4, 1, 'miter'), {clip: false}),
    Object.assign(lineDs(boxPath(purpleBox), '#9900FF', 4, 1, 'miter'), {clip: false})
  ]},
  options: Object.assign({}, base, {
    layout: {padding: {left: 0, right: 62, top: 24, bottom: 0}},
    plugins: Object.assign({}, base.plugins, {minorTicks: {x: {length: 15, width: 7, major: 20}, y: {length: 15, width: 7, major: 200}}}),
    scales: {
      x: axis(mainX, {position: 'bottom', size0: 157, pad: 11, family: SANS, size: 61, tick: 30, tw: 7, bw: 7}),
      y: axis(mainY, {position: 'left', size0: 195, pad: 20, family: SANS, size: 61, tick: 30, tw: 7, bw: 7})
    }
  }),
  plugins: [minorTicks, annot]
});
</script>
</body></html>
